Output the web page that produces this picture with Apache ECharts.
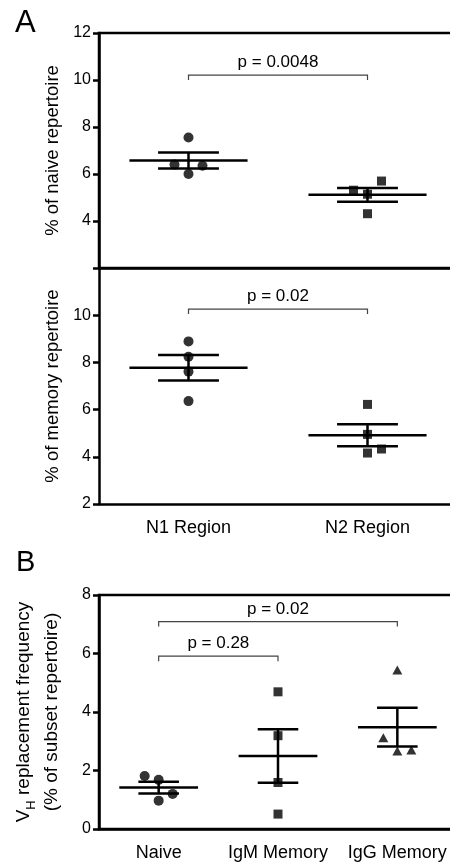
<!DOCTYPE html>
<html>
<head>
<meta charset="utf-8">
<script src="https://cdn.jsdelivr.net/npm/echarts@6/dist/echarts.min.js"></script>
<style>
html,body{margin:0;padding:0;background:#fff;}
#chart{width:450px;height:863px;}
</style>
</head>
<body>
<div id="chart"></div>
<script>
// ---- Data ----
const regionCats = ['N1 Region', 'N2 Region'];
const naiveN1 = [6.0, 6.35, 6.4, 7.55];
const naiveN2 = [5.14, 5.70, 5.31, 4.31];
const memoryN1 = [6.36, 7.61, 8.24, 8.89];
const memoryN2 = [4.16, 4.33, 4.95, 6.22];
const subsetCats = ['Naive', 'IgM Memory', 'IgG Memory'];
const vhNaive = [0.97, 1.20, 1.68, 1.81];
const vhIgM = [0.51, 1.59, 3.19, 4.69];
const vhIgG = [2.67, 2.70, 3.12, 5.44];
const regionTicks = [2, 4, 6, 8, 10, 12];
const vhTicks = [0, 2, 4, 6, 8];
const pNaive = 'p = 0.0048';
const pMemory = 'p = 0.02';
const pIgM = 'p = 0.28';
const pIgG = 'p = 0.02';

// ---- Helpers ----
const FONT = '"Liberation Sans", Arial, Helvetica, sans-serif';
function mean(a){ return a.reduce((s,v)=>s+v,0)/a.length; }
function sem(a){ const m=mean(a); const v=a.reduce((s,x)=>s+(x-m)*(x-m),0)/(a.length-1); return Math.sqrt(v/a.length); }
// simple beeswarm: slot -1/0/+1 for points that would overlap
function swarm(values, thr){
  const placed=[]; let side=1;
  return values.map(v=>{
    const hit = s => placed.some(p=>p.slot===s && Math.abs(p.v-v)<thr);
    let slot=0;
    if(hit(0)){ slot=side; side=-side; if(hit(slot)){ slot=-slot; } }
    placed.push({v,slot});
    return slot;
  });
}
const SPREAD = 14;
function pts(catIdx, values, thr){
  const slots = swarm(values, thr);
  return values.map((v,i)=>({value:[catIdx, v], symbolOffset:[slots[i]*SPREAD, 0]}));
}
function stats(groups){
  return groups.map((g,i)=>{ const m=mean(g), s=sem(g); return [i, m, m-s, m+s]; });
}
function errRender(params, api){
  const x=api.value(0);
  const pm=api.coord([x, api.value(1)]);
  const pl=api.coord([x, api.value(2)]);
  const ph=api.coord([x, api.value(3)]);
  const bw=api.size([1,0])[0];
  const mh=bw*0.33, sh=bw*0.17;
  const st={stroke:'#000', lineWidth:2.5};
  return {type:'group', children:[
    {type:'line', shape:{x1:pm[0]-mh,y1:pm[1],x2:pm[0]+mh,y2:pm[1]}, style:st},
    {type:'line', shape:{x1:ph[0]-sh,y1:ph[1],x2:ph[0]+sh,y2:ph[1]}, style:st},
    {type:'line', shape:{x1:pl[0]-sh,y1:pl[1],x2:pl[0]+sh,y2:pl[1]}, style:st},
    {type:'line', shape:{x1:ph[0],y1:ph[1],x2:pl[0],y2:pl[1]}, style:st}
  ]};
}
function bracketRender(params, api){
  const a=api.coord([api.value(0), api.value(2)]);
  const b=api.coord([api.value(1), api.value(2)]);
  return {type:'group', children:[
    {type:'polyline', shape:{points:[[a[0],a[1]+5],[a[0],a[1]],[b[0],b[1]],[b[0],b[1]+5]]},
     style:{stroke:'#444', lineWidth:1.2, fill:null}},
    {type:'text', x:(a[0]+b[0])/2, y:a[1]-4,
     style:{text:String(api.value(3)), font:'17px '+FONT, fill:'#000', textAlign:'center', textVerticalAlign:'bottom'}}
  ]};
}

const axisLine = {lineStyle:{color:'#000', width:2.5}};
const axisTick = {length:6, lineStyle:{color:'#000', width:2.5}};
const yLabel = {fontSize:16, color:'#000', fontFamily:FONT, margin:8};
const xLabel = {fontSize:18, color:'#000', fontFamily:FONT, margin:15, interval:0, hideOverlap:false};
const nameStyle = {fontSize:18.5, color:'#000', fontFamily:FONT};

const grids = [
  {left:99, top:33, width:358, height:235, show:true, borderColor:'#000', borderWidth:2.5, outerBoundsMode:'none', containLabel:false},
  {left:99, top:268, width:358, height:236, outerBoundsMode:'none', containLabel:false},
  {left:99, top:595, width:358, height:234, show:true, borderColor:'#000', borderWidth:2.5, outerBoundsMode:'none', containLabel:false}
];

const thrA = 0.06*(regionTicks[regionTicks.length-1]-regionTicks[0]);
const thrB = 0.06*(vhTicks[vhTicks.length-1]-vhTicks[0]);

const option = {
  animation:false,
  backgroundColor:'#fff',
  textStyle:{fontFamily:FONT},
  grid:grids,
  xAxis:[
    {gridIndex:0, type:'category', data:regionCats, axisLine, axisTick:Object.assign({alignWithLabel:true, interval:0}, axisTick), axisLabel:{show:false}, splitLine:{show:false}},
    {gridIndex:1, type:'category', data:regionCats, axisLine, axisTick:Object.assign({alignWithLabel:true, interval:0}, axisTick), axisLabel:xLabel, splitLine:{show:false}},
    {gridIndex:2, type:'category', data:subsetCats, axisLine, axisTick:Object.assign({alignWithLabel:true, interval:0}, axisTick), axisLabel:xLabel, splitLine:{show:false}}
  ],
  yAxis:[
    {gridIndex:0, type:'value', min:regionTicks[0], max:regionTicks[regionTicks.length-1], interval:2,
     axisLine:Object.assign({show:true}, axisLine), axisTick:Object.assign({show:true}, axisTick), splitLine:{show:false},
     axisLabel:Object.assign({formatter:v=>v===regionTicks[0]?'':String(v)}, yLabel),
     name:'% of naive repertoire', nameLocation:'middle', nameGap:33, nameRotate:90, nameTextStyle:nameStyle},
    {gridIndex:1, type:'value', min:regionTicks[0], max:regionTicks[regionTicks.length-1], interval:2,
     axisLine:Object.assign({show:true}, axisLine), axisTick:Object.assign({show:true}, axisTick), splitLine:{show:false},
     axisLabel:Object.assign({formatter:v=>v===regionTicks[regionTicks.length-1]?'':String(v)}, yLabel),
     name:'% of memory repertoire', nameLocation:'middle', nameGap:33, nameRotate:90, nameTextStyle:nameStyle},
    {gridIndex:2, type:'value', min:vhTicks[0], max:vhTicks[vhTicks.length-1], interval:2,
     axisLine:Object.assign({show:true}, axisLine), axisTick:Object.assign({show:true}, axisTick), splitLine:{show:false},
     axisLabel:yLabel,
     name:'{a|V}{s|H}{a| replacement frequency}\n{a|(% of subset repertoire)}', nameLocation:'middle', nameGap:33, nameRotate:90,
     nameTextStyle:{color:'#000', fontFamily:FONT, lineHeight:28,
       rich:{a:{fontSize:19, fontFamily:FONT, color:'#000', lineHeight:28},
             s:{fontSize:13, fontFamily:FONT, color:'#000', lineHeight:28, padding:[10,0,0,0], verticalAlign:'bottom'}}}}
  ],
  series:[
    {type:'scatter', xAxisIndex:0, yAxisIndex:0, symbol:'circle', symbolSize:10, itemStyle:{color:'#000'}, data:pts(0, naiveN1, thrA), z:3},
    {type:'scatter', xAxisIndex:0, yAxisIndex:0, symbol:'rect', symbolSize:9, itemStyle:{color:'#000'}, data:pts(1, naiveN2, thrA), z:3},
    {type:'custom', xAxisIndex:0, yAxisIndex:0, renderItem:errRender, data:stats([naiveN1, naiveN2]), encode:{x:0, y:[1,2,3]}, z:4},
    {type:'custom', xAxisIndex:0, yAxisIndex:0, renderItem:bracketRender, clip:false, data:[[0,1,10.21,pNaive]], encode:{x:[0,1], y:2}},

    {type:'scatter', xAxisIndex:1, yAxisIndex:1, symbol:'circle', symbolSize:10, itemStyle:{color:'#000'}, data:pts(0, memoryN1, thrA), z:3},
    {type:'scatter', xAxisIndex:1, yAxisIndex:1, symbol:'rect', symbolSize:9, itemStyle:{color:'#000'}, data:pts(1, memoryN2, thrA), z:3},
    {type:'custom', xAxisIndex:1, yAxisIndex:1, renderItem:errRender, data:stats([memoryN1, memoryN2]), encode:{x:0, y:[1,2,3]}, z:4},
    {type:'custom', xAxisIndex:1, yAxisIndex:1, renderItem:bracketRender, clip:false, data:[[0,1,10.26,pMemory]], encode:{x:[0,1], y:2}},

    {type:'scatter', xAxisIndex:2, yAxisIndex:2, symbol:'circle', symbolSize:10, itemStyle:{color:'#000'}, data:pts(0, vhNaive, thrB), z:3},
    {type:'scatter', xAxisIndex:2, yAxisIndex:2, symbol:'rect', symbolSize:9, itemStyle:{color:'#000'}, data:pts(1, vhIgM, thrB), z:3},
    {type:'scatter', xAxisIndex:2, yAxisIndex:2, symbol:'triangle', symbolSize:[10,9], itemStyle:{color:'#000'}, data:pts(2, vhIgG, thrB), z:3},
    {type:'custom', xAxisIndex:2, yAxisIndex:2, renderItem:errRender, data:stats([vhNaive, vhIgM, vhIgG]), encode:{x:0, y:[1,2,3]}, z:4},
    {type:'custom', xAxisIndex:2, yAxisIndex:2, renderItem:bracketRender, clip:false, data:[[0,2,7.09,pIgG],[0,1,5.91,pIgM]], encode:{x:[0,1], y:2}}
  ],
  graphic:[
    {type:'text', left:15, top:8, style:{text:'A', font:'31px '+FONT, fill:'#000'}},
    {type:'text', left:16, top:548, style:{text:'B', font:'29px '+FONT, fill:'#000'}}
  ]
};
const chart = echarts.init(document.getElementById('chart'), null, {renderer:'canvas'});
chart.setOption(option);
</script>
</body>
</html>
